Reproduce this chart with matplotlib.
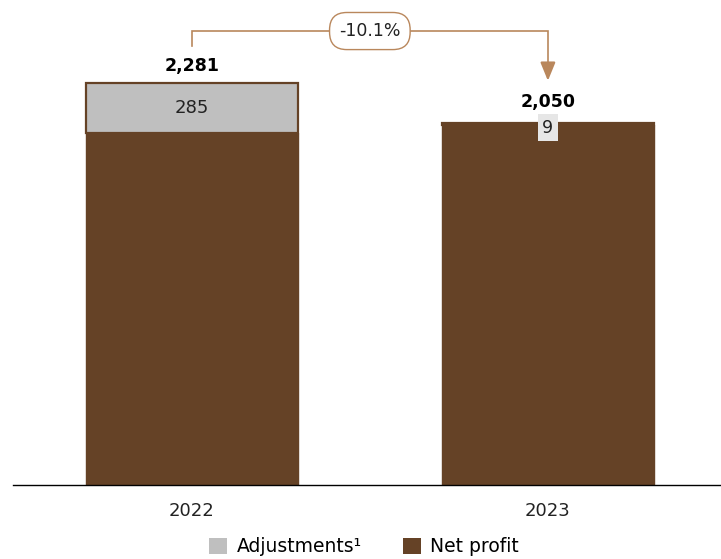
import matplotlib
matplotlib.use("Agg")
import matplotlib.pyplot as plt
from matplotlib.patches import Patch

plt.rcParams['font.family'] = ['DejaVu Sans']

years = ["2022", "2023"]
totals = [2281, 2050]
adjustments = [285, 9]
net_profit = [t - a for t, a in zip(totals, adjustments)]
change_label = "-10.1%"

brown = "#654226"
gray = "#bfbfbf"
tan = "#b9875c"

fig = plt.figure(figsize=(7.21, 5.59), dpi=100)
ax = fig.add_axes([13/721, 74/559, 1 - 13/721, 485/559])

x = list(range(len(years)))
w = 0.5945
ax.bar(x, net_profit, width=w, color=brown, edgecolor=brown, linewidth=1.0, label="Net profit")
ax.bar(x, adjustments, width=w, bottom=net_profit, color=gray, edgecolor=brown,
       linewidth=1.6, label="Adjustments¹")

ax.set_xlim(-0.502, 1.486)
ax.set_ylim(0, 2750)

# labels
ax.annotate(f"{totals[0]:,}", (x[0], totals[0]), xytext=(0, 12), textcoords="offset points",
            ha="center", va="center", fontsize=12.5, fontweight="bold", color="black")
ax.annotate(f"{totals[1]:,}", (x[1], totals[1]), xytext=(0, 15.5), textcoords="offset points",
            ha="center", va="center", fontsize=12.5, fontweight="bold", color="black")
ax.text(x[0], net_profit[0] + adjustments[0] / 2, f"{adjustments[0]}", ha="center", va="center",
        fontsize=13, color="#222222")
ax.annotate(f"{adjustments[1]}", (x[1], totals[1]), xytext=(0, -3), textcoords="offset points",
            ha="center", va="center", fontsize=12.5, color="#222222",
            bbox=dict(boxstyle="square,pad=0.25", fc="#e6e6e6", ec="none"))

# change bracket
y_top = max(totals) + 293
y_start = totals[0] + 208
ax.plot([x[0], x[0], x[1], x[1]], [y_start, y_top, y_top, totals[1] + 320],
        color=tan, lw=1.2, solid_joinstyle="miter")
ax.annotate("", xy=(x[1], totals[1] + 242), xytext=(x[1], totals[1] + 330),
            arrowprops=dict(arrowstyle="-|>,head_length=1.1,head_width=0.45", color=tan, lw=1.6,
                            shrinkA=0, shrinkB=0))
ax.text((x[0] + x[1]) / 2, y_top, change_label, ha="center", va="center", fontsize=12.5,
        color="#222222",
        bbox=dict(boxstyle="round,pad=0.55,rounding_size=1.0", fc="white", ec=tan, lw=1.0))

for s in ["top", "right", "left"]:
    ax.spines[s].set_visible(False)
ax.spines["bottom"].set_color("black")
ax.spines["bottom"].set_linewidth(1.0)
ax.set_yticks([])
ax.set_xticks(x)
ax.set_xticklabels(years, fontsize=13, color="#222222")
ax.tick_params(axis="x", length=0, pad=12)

handles = [Patch(facecolor=gray, edgecolor="none", label="Adjustments¹"),
           Patch(facecolor=brown, edgecolor="none", label="Net profit")]
fig.legend(handles=handles, loc="center", bbox_to_anchor=(364/721, 1 - 547/559), ncol=2,
           frameon=False, fontsize=13.5, handlelength=0.95, handleheight=0.95,
           handletextpad=0.5, columnspacing=2.2, borderpad=0)

fig.savefig("out.png", dpi=100)
